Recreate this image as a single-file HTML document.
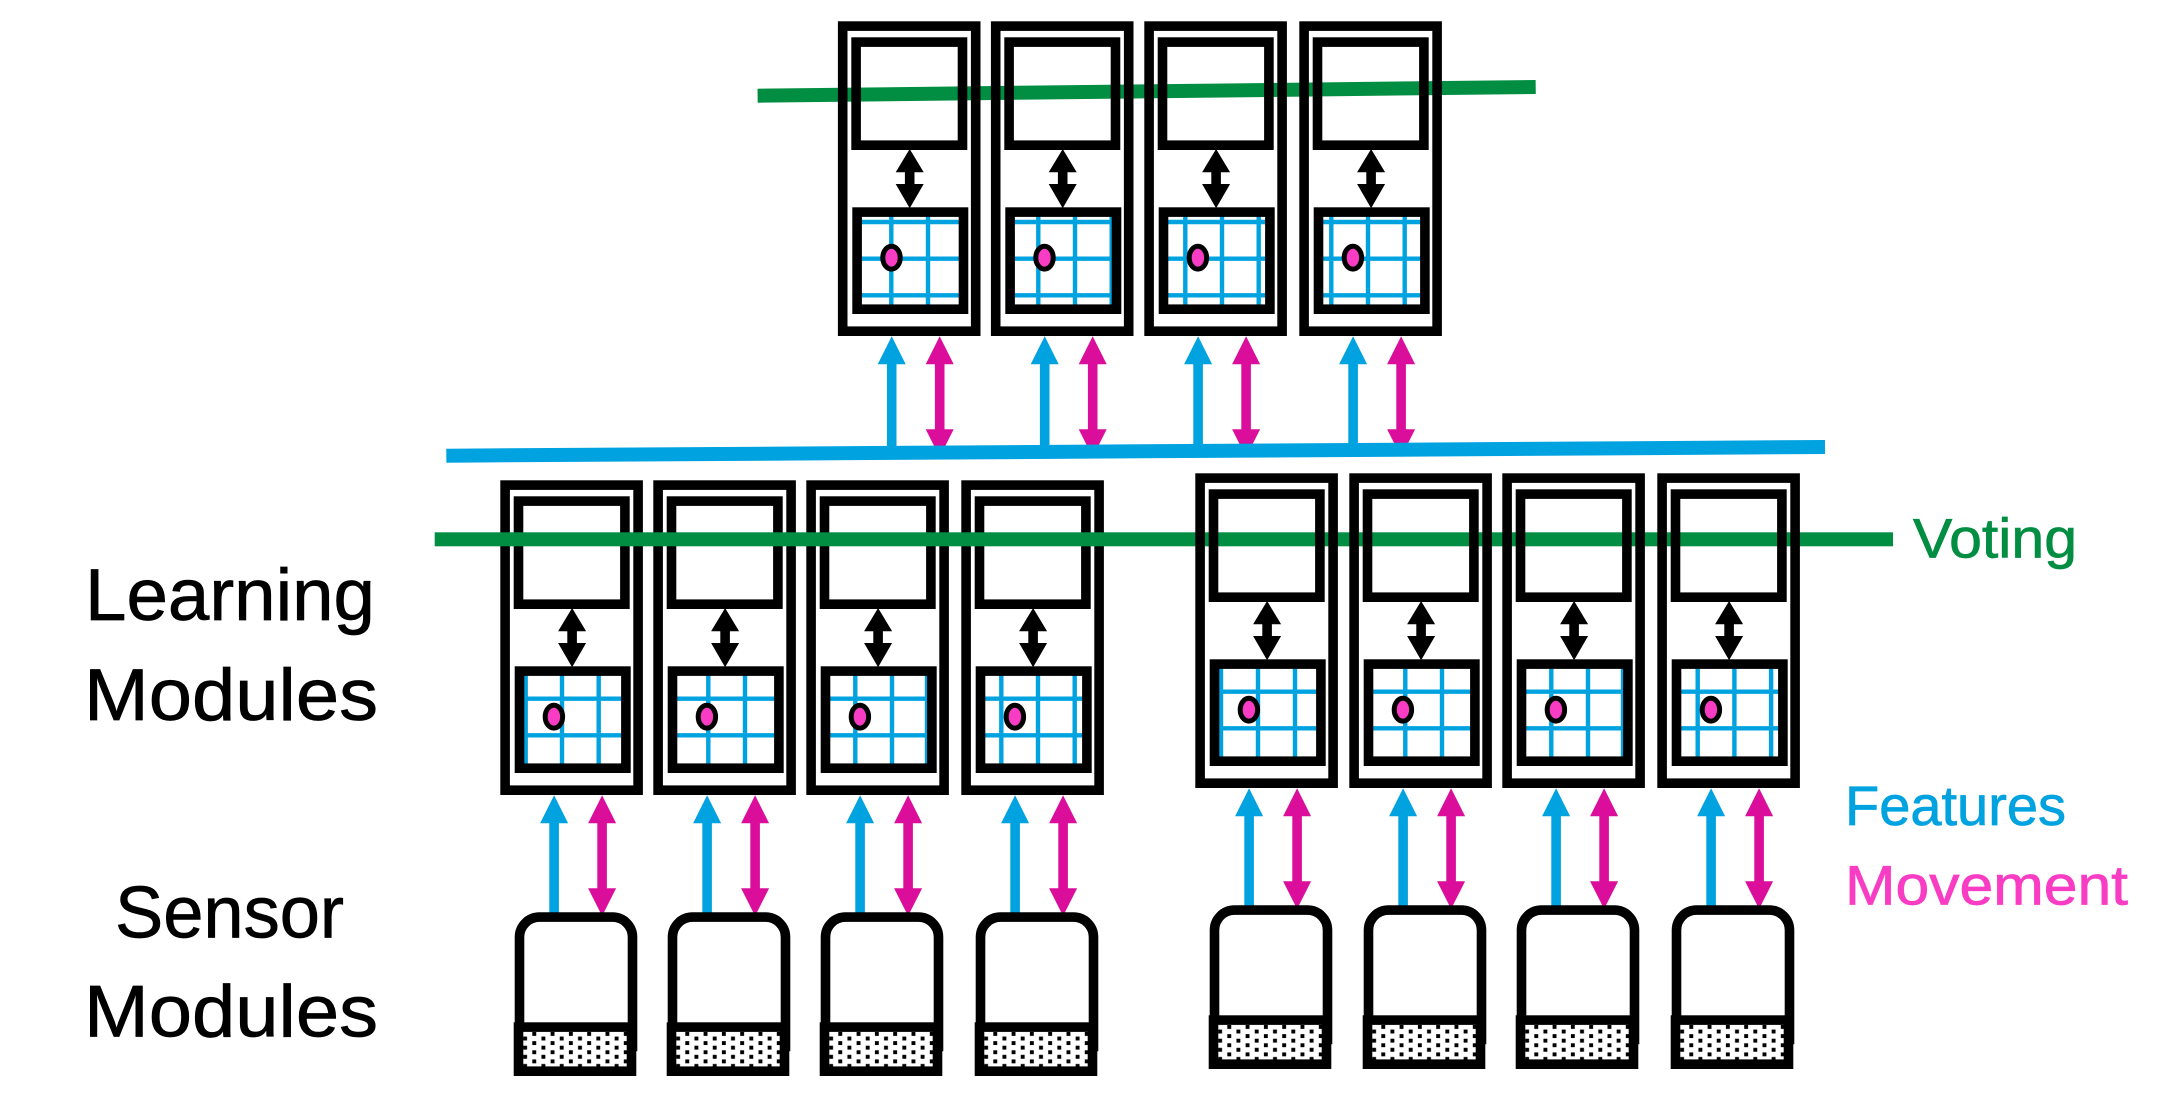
<!DOCTYPE html>
<html>
<head>
<meta charset="utf-8">
<style>
html,body{margin:0;padding:0;background:#fff}
svg{display:block}
text{font-family:"Liberation Sans",sans-serif;stroke-width:.7px;paint-order:stroke}
.k{fill:#000;stroke:#000;font-size:73px}
.gl{stroke:#00A2E0;stroke-width:4.4;fill:none}
</style>
</head>
<body>
<svg width="2172" height="1113" viewBox="0 0 2172 1113" xmlns="http://www.w3.org/2000/svg">
<defs>
  <clipPath id="c"><rect x="10" y="179" width="98" height="88.7"/></clipPath>
  <pattern id="dots" patternUnits="userSpaceOnUse" x="18.6" y="535.7" width="18.3" height="9.14">
    <rect width="18.3" height="9.14" fill="#fff"/>
    <rect x="0" y="0" width="3.9" height="3.9" fill="#000"/>
    <rect x="9.15" y="4.57" width="3.9" height="3.9" fill="#000"/>
  </pattern>
  <path id="hT" class="gl" d="M0 184.7H120M0 221.4H120M0 258H120"/>
  <path id="hL" class="gl" d="M0 202.4H120M0 239H120"/>
  <g id="m">
    <rect x="-8.6" y="-11.2" width="133" height="305.1" fill="none" stroke="#000" stroke-width="9.6"/>
    <rect x="4.8" y="4.8" width="106.4" height="103.1" fill="none" stroke="#000" stroke-width="9.6"/>
    <rect x="5.8" y="174.8" width="106.4" height="97.1" fill="none" stroke="#000" stroke-width="9.6"/>
    <polygon fill="#000" points="58.4,111.7 72.4,135 63.2,135 63.2,146.7 72.4,146.7 58.4,171 44.4,146.7 53.6,146.7 53.6,135 44.4,135"/>
    <ellipse cx="40.2" cy="220.4" rx="8.7" ry="11.4" fill="#F93CC4" stroke="#000" stroke-width="5"/>
    <polygon fill="#00A2E0" points="40.4,299 54.4,327 45.2,327 45.2,419 35.6,419 35.6,327 26.4,327"/>
    <polygon fill="#DB0E9C" points="88.4,299 102.4,327 93.2,327 93.2,392 102.4,392 88.4,419.7 74.4,392 83.6,392 83.6,327 74.4,327"/>
  </g>
  <g id="s">
    <path d="M5.8 555V440.8A20 20 0 0 1 25.8 420.8H98.8A20 20 0 0 1 118.8 440.8V555" fill="none" stroke="#000" stroke-width="9.6"/>
    <rect x="4.8" y="530.8" width="113" height="44.1" fill="url(#dots)" stroke="#000" stroke-width="9.6"/>
  </g>
</defs>

<rect width="2172" height="1113" fill="#fff"/>

<!-- top voting line, behind modules -->
<line x1="757.6" y1="95.7" x2="1535.7" y2="87" stroke="#028E42" stroke-width="14"/>

<!-- top row -->
<g transform="translate(851.3 37.3)"><g clip-path="url(#c)"><use href="#hT"/><path class="gl" d="M40 170V280M76.7 170V280"/></g><use href="#m"/></g>
<g transform="translate(1004.3 37.3)"><g clip-path="url(#c)"><use href="#hT"/><path class="gl" d="M34 170V280M70.7 170V280M107.4 170V280"/></g><use href="#m"/></g>
<g transform="translate(1157.7 37.3)"><g clip-path="url(#c)"><use href="#hT"/><path class="gl" d="M27.6 170V280M64.3 170V280M101 170V280"/></g><use href="#m"/></g>
<g transform="translate(1312.7 37.3)"><g clip-path="url(#c)"><use href="#hT"/><path class="gl" d="M18.6 170V280M55.3 170V280M92 170V280"/></g><use href="#m"/></g>

<!-- blue feature line -->
<line x1="446.3" y1="455.7" x2="1825" y2="447" stroke="#00A2E0" stroke-width="14"/>

<!-- lower left group -->
<g transform="translate(513.7 496.3)"><g clip-path="url(#c)"><use href="#hL"/><path class="gl" d="M12 170V280M48.3 170V280M85 170V280"/></g><use href="#m"/><use href="#s"/></g>
<g transform="translate(666.7 496.3)"><g clip-path="url(#c)"><use href="#hL"/><path class="gl" d="M41.6 170V280M78.3 170V280"/></g><use href="#m"/><use href="#s"/></g>
<g transform="translate(819.7 496.3)"><g clip-path="url(#c)"><use href="#hL"/><path class="gl" d="M35.6 170V280M72.3 170V280M107.3 170V280"/></g><use href="#m"/><use href="#s"/></g>
<g transform="translate(974.7 496.3)"><g clip-path="url(#c)"><use href="#hL"/><path class="gl" d="M26.6 170V280M63.3 170V280M100 170V280"/></g><use href="#m"/><use href="#s"/></g>

<!-- lower voting line: over left group, under right group -->
<rect x="434.7" y="532.3" width="1458.3" height="14" fill="#028E42"/>

<!-- lower right group -->
<g transform="translate(1208.7 489.3)"><g clip-path="url(#c)"><use href="#hL"/><path class="gl" d="M12.3 170V280M49.3 170V280M86.3 170V280"/></g><use href="#m"/><use href="#s"/></g>
<g transform="translate(1362.7 489.3)"><g clip-path="url(#c)"><use href="#hL"/><path class="gl" d="M42.6 170V280M79.3 170V280"/></g><use href="#m"/><use href="#s"/></g>
<g transform="translate(1515.7 489.3)"><g clip-path="url(#c)"><use href="#hL"/><path class="gl" d="M35.6 170V280M72.3 170V280M107.3 170V280"/></g><use href="#m"/><use href="#s"/></g>
<g transform="translate(1670.7 489.3)"><g clip-path="url(#c)"><use href="#hL"/><path class="gl" d="M27 170V280M63.7 170V280M100.4 170V280"/></g><use href="#m"/><use href="#s"/></g>

<!-- labels -->
<text class="k" x="85" y="620" textLength="290" lengthAdjust="spacingAndGlyphs">Learning</text>
<text class="k" x="84" y="720" textLength="294" lengthAdjust="spacingAndGlyphs">Modules</text>
<text class="k" x="115" y="937.3" textLength="229" lengthAdjust="spacingAndGlyphs">Sensor</text>
<text class="k" x="84" y="1036.7" textLength="294" lengthAdjust="spacingAndGlyphs">Modules</text>
<text x="1913" y="557.3" font-size="56" fill="#028E42" stroke="#028E42" textLength="164" lengthAdjust="spacingAndGlyphs">Voting</text>
<text x="1845" y="825" font-size="56" fill="#00A2E0" stroke="#00A2E0" textLength="221" lengthAdjust="spacingAndGlyphs">Features</text>
<text x="1845" y="904.3" font-size="56" fill="#F93CC4" stroke="#F93CC4" textLength="283" lengthAdjust="spacingAndGlyphs">Movement</text>
</svg>
</body>
</html>
